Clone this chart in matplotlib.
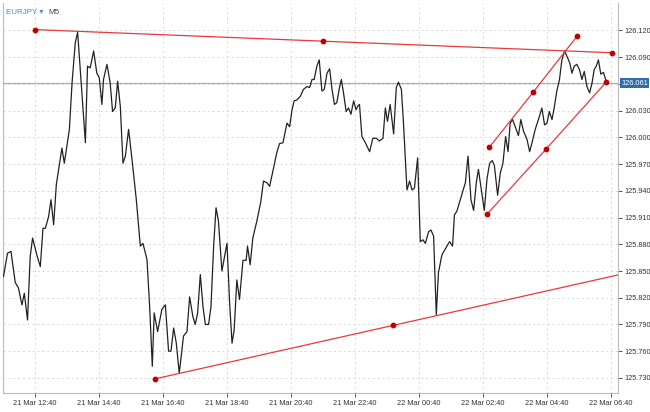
import matplotlib
matplotlib.use("Agg")
import matplotlib.pyplot as plt
plt.rcParams['font.family'] = ['Liberation Sans', 'DejaVu Sans']

# bar index (5-min bars since 21 Mar 12:40) and price
bars = [-11.9,-10.4,-9.1,-7.5,-6.3,-5.0,-4.1,-2.9,-1.9,-1.0,0.6,1.9,2.9,3.8,5.0,5.9,6.9,7.9,10.0,10.9,12.8,13.8,15.0,15.9,17.5,18.8,19.6,20.6,21.9,23.1,24.0,25.0,25.6,26.9,28.1,29.0,30.0,30.9,31.9,32.9,33.8,35.0,36.3,37.9,39.4,40.4,41.9,42.9,43.9,
        44.6,45.9,47.5,48.8,50.0,50.9,51.9,52.9,54.0,55.6,56.9,57.9,59.1,60.0,60.9,61.9,62.9,63.8,65.0,65.9,66.9,67.8,68.7,70.0,70.9,71.9,72.9,73.8,74.6,75.6,76.6,77.9,79.1,79.6,80.6,81.6,83.1,84.6,85.6,86.9,87.9,89.4,90.6,91.6,92.9,94.4,95.4,96.3,97.1,98.1,
        99.4,100.6,101.9,102.9,103.8,104.6,105.6,106.5,107.5,108.4,109.4,110.4,111.3,112.2,113.1,114.1,114.8,115.6,116.6,117.5,118.4,119.4,120.3,120.9,121.6,122.5,123.8,125.4,126.6,127.9,129.1,130.4,131.3,132.1,133.1,134.4,135.4,136.2,137.3,138.1,139.4,140.4,141.3,142.2,143.4,144.4,145.4,146.3,147.5,148.4,149.4,150.4,151.2,152.5,154.4,155.4,156.5,157.2,158.1,159.4,
        161.3,162.3,163.4,164.4,165.4,166.2,167.1,168.4,169.4,170.4,171.4,172.2,173.4,174.4,175.4,176.4,177.3,178.1,179.0,180.0,181.2,182.1,183.1,184.4,185.4,186.3,187.5,188.7,190.0,191.0,191.9,192.8,193.8,194.6,195.6,196.6,197.5,198.5,199.4,200.4,201.3,202.1,203.1,204.1,205.0,205.9,206.9,207.9,208.8,209.6,210.4,211.2,212.1,213.1,213.8,214.4]
prices = [125.844,125.870,125.872,125.837,125.831,125.812,125.825,125.795,125.866,125.887,125.868,125.855,125.898,125.898,125.911,125.930,125.902,125.947,125.988,125.971,126.009,126.061,126.106,126.118,126.050,125.994,126.080,126.078,126.097,126.072,126.067,126.037,126.065,126.082,126.061,126.029,126.033,126.063,126.035,125.971,125.979,126.009,125.975,125.930,125.878,125.881,125.863,125.810,125.743,
          125.803,125.782,125.807,125.812,125.760,125.760,125.786,125.769,125.735,125.777,125.782,125.821,125.799,125.790,125.803,125.846,125.810,125.790,125.790,125.810,125.878,125.921,125.906,125.850,125.865,125.881,125.814,125.769,125.784,125.840,125.818,125.862,125.862,125.878,125.857,125.887,125.906,125.928,125.951,125.949,125.945,125.966,125.983,125.993,125.994,126.016,126.012,126.031,126.041,126.042,
          126.046,126.054,126.057,126.056,126.065,126.065,126.080,126.087,126.052,126.054,126.072,126.077,126.054,126.037,126.039,126.056,126.065,126.050,126.029,126.033,126.026,126.041,126.031,126.035,126.037,126.001,125.994,125.984,125.999,125.999,125.996,125.999,126.033,126.018,126.037,126.004,126.056,126.062,126.054,126.016,125.941,125.951,125.941,125.943,125.977,125.883,125.885,125.881,125.894,125.896,125.889,125.801,125.848,125.868,125.878,125.883,125.878,125.913,125.917,125.930,
          125.949,125.979,125.930,125.918,125.949,125.964,125.945,125.918,125.953,125.971,125.974,125.968,125.935,125.960,125.971,126.001,125.984,126.016,126.020,126.012,126.002,126.020,126.007,125.998,125.984,125.994,126.009,126.020,126.033,126.014,126.016,126.029,126.020,126.033,126.052,126.065,126.087,126.097,126.091,126.084,126.072,126.080,126.082,126.076,126.065,126.074,126.057,126.050,126.061,126.076,126.080,126.087,126.071,126.073,126.066,126.061]

current_price = 126.061
# trend lines: (bar, price) points
top_line_x = [0, 108.0, 216.4]
top_line_y = [126.121, 126.108, 126.095]
bottom_line_x = [45.0, 134.3, 223.6]
bottom_line_y = [125.729, 125.789, 125.849]
chan_up_x = [170.3, 186.8, 203.3]
chan_up_y = [125.989, 126.051, 126.114]
chan_lo_x = [169.5, 191.6, 214.1]
chan_lo_y = [125.914, 125.987, 126.062]

tick_bars = [0, 24, 48, 72, 96, 120, 144, 168, 192, 216]
tick_labels = ["21 Mar 12:40","21 Mar 14:40","21 Mar 16:40","21 Mar 18:40","21 Mar 20:40",
               "21 Mar 22:40","22 Mar 00:40","22 Mar 02:40","22 Mar 04:40","22 Mar 06:40"]
price_ticks = [125.730,125.760,125.790,125.820,125.850,125.880,125.910,125.940,125.970,126.000,126.030,126.060,126.090,126.120]

fig = plt.figure(figsize=(6.5, 4.12), dpi=100)
ax = fig.add_axes([0.005, 0.046, 0.946, 0.947])
ax.set_xlim(-12, 218.6)
ax.set_ylim(125.713, 126.151)

ax.grid(True, color="#d8d8d8", linestyle=(0, (2, 3)), linewidth=0.7)
ax.axhline(current_price, color="#9fb3c6", linewidth=0.9, zorder=2)
ax.plot(bars, prices, color="#222222", linewidth=0.9, zorder=3)

red = "#e8393a"
for xs, ys in [(top_line_x, top_line_y), (bottom_line_x, bottom_line_y),
               (chan_up_x, chan_up_y), (chan_lo_x, chan_lo_y)]:
    ax.plot(xs, ys, color=red, linewidth=0.9, zorder=4, clip_on=True)
ax.scatter(top_line_x, top_line_y, s=10, color="#c00000", zorder=5, clip_on=False)
ax.scatter(bottom_line_x[:2], bottom_line_y[:2], s=10, color="#c00000", zorder=5)
ax.scatter(chan_up_x, chan_up_y, s=10, color="#c00000", zorder=5)
ax.scatter(chan_lo_x, chan_lo_y, s=10, color="#c00000", zorder=5)

ax.set_xticks(tick_bars)
ax.set_xticklabels(tick_labels)
ax.yaxis.tick_right()
ax.set_yticks(price_ticks)
ax.set_yticklabels(["" if abs(v - current_price) < 0.005 else f"{v:.3f}" for v in price_ticks])
ax.tick_params(axis="both", labelsize=5.3, colors="#333333", length=3, width=0.6)
ax.tick_params(axis="x", pad=2)
ax.tick_params(axis="y", pad=1.5)
ax.spines["top"].set_visible(False)
for s in ["left", "right", "bottom"]:
    ax.spines[s].set_color("#bbbbbb")

ax.annotate(f"{current_price:.3f}", xy=(1.0, current_price), xycoords=("axes fraction", "data"),
            xytext=(2, 0), textcoords="offset points", va="center", ha="left",
            fontsize=5.3, color="white",
            bbox=dict(boxstyle="square,pad=0.15", fc="#2f6ea8", ec="none"), zorder=10)

ax.text(0.004, 0.985, "EURJPY ▾", transform=ax.transAxes, fontsize=5.8, color="#3a8ee6", va="top", ha="left")
ax.text(0.073, 0.985, "M5", transform=ax.transAxes, fontsize=5.8, color="#444444", va="top", ha="left")

fig.savefig("out.png", dpi=100)
